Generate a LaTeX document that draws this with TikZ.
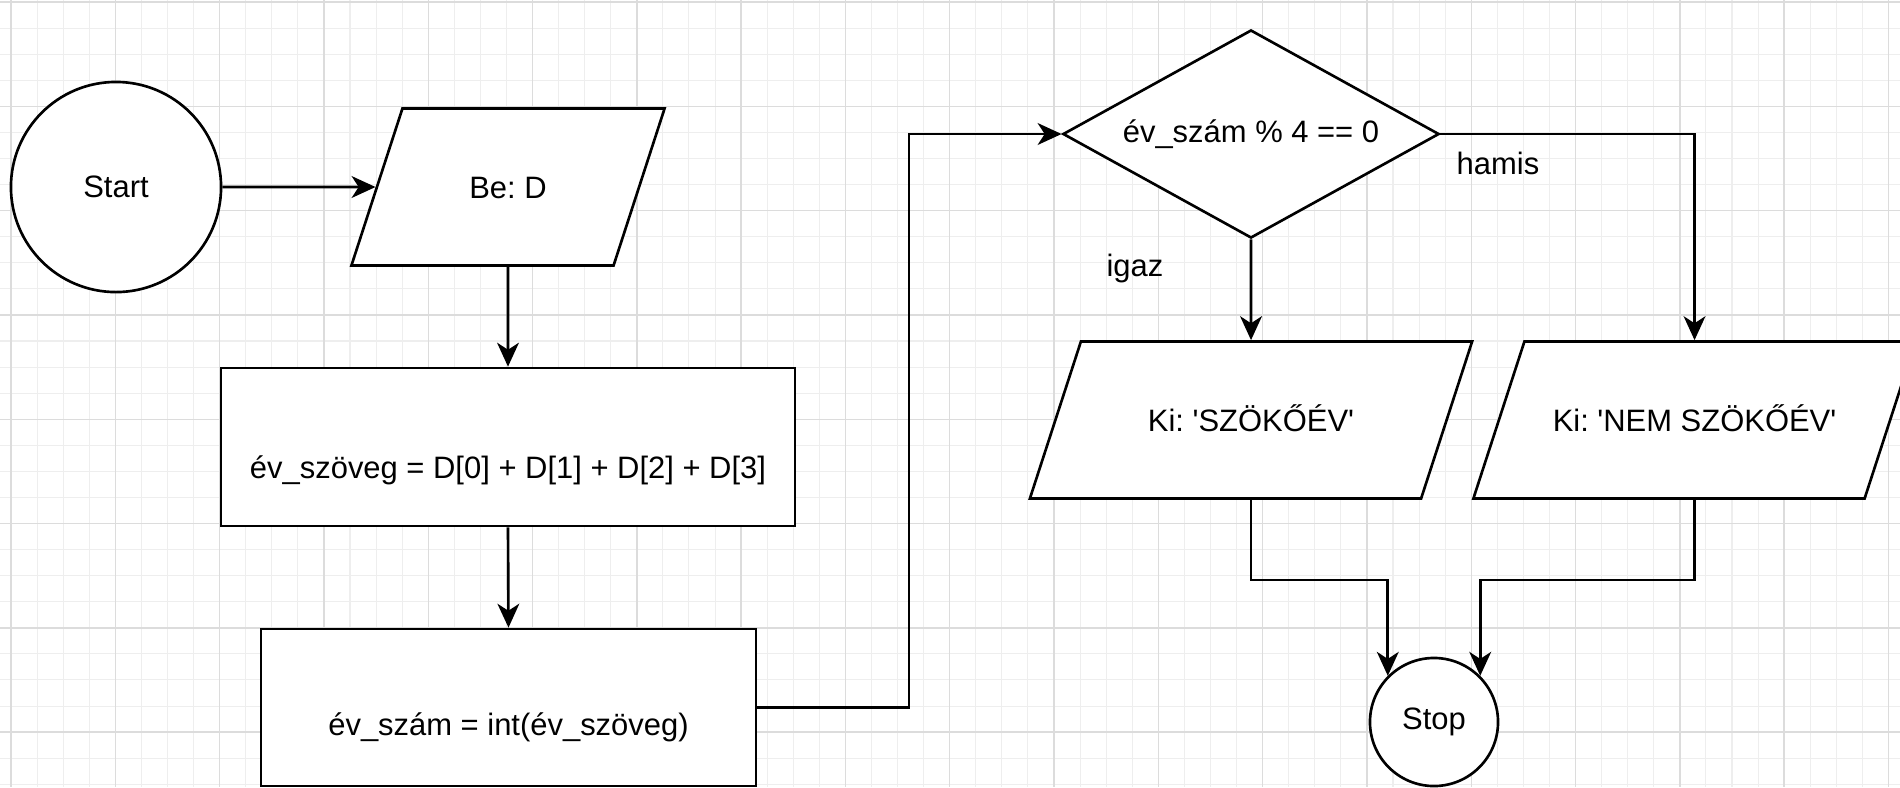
\documentclass[tikz,border=0pt]{standalone}
\usepackage{fontspec}
\setmainfont{Liberation Sans}
\usetikzlibrary{shapes.geometric,arrows.meta}
\definecolor{gridlight}{HTML}{EEEEEE}
\definecolor{griddark}{HTML}{DCDCDC}
\tikzset{%
  terminal/.style  = {shape=circle, draw, line width=0.75pt, inner sep=0pt},%
  iobox/.style     = {shape=trapezium, draw, fill=white, line width=0.75pt,%
                      trapezium left angle=72, trapezium right angle=108,%
                      trapezium stretches body, inner ysep=0pt,%
                      text height=0.895cm, text depth=0.675cm},%
  procbox/.style   = {shape=rectangle, draw, fill=white, line width=0.75pt,%
                      minimum height=1.58cm},%
  decision/.style  = {shape=diamond, draw, fill=white, line width=0.75pt,%
                      aspect=1.8, inner sep=0pt,%
                      minimum width=3.76cm, minimum height=2.08cm},%
  flow/.style      = {line width=0.75pt,%
                      -{Stealth[length=6.8pt, width=6.2pt, inset=2pt]}},%
  minorline/.style = {draw=gridlight, line width=0.3pt},%
  majorline/.style = {draw=griddark, line width=0.4pt}%
}

\begin{document}
\frenchspacing
\begin{tikzpicture}[x=0.01cm, y=-0.01cm, every node/.style = {font=\fontsize{8.8}{10.5}\selectfont}]
  \useasboundingbox (0,0) rectangle (1900,787);
  \clip (0,0) rectangle (1900,787);
  \fill[white] (0,0) rectangle (1900,787);
  % background grid
  \foreach \k in {0,...,72} \draw[minorline] ({11+26.075*\k},0) -- ++(0,787);
  \foreach \k in {0,...,30} \draw[minorline] (0,{2+26.075*\k}) -- ++(1900,0);
  \foreach \k in {0,...,18} \draw[majorline] ({11+104.3*\k},0) -- ++(0,787);
  \foreach \k in {0,...,7} \draw[majorline] (0,{2+104.3*\k}) -- ++(1900,0);

  % shapes
  \node[terminal, fill=white, minimum size=2.1cm] (start) at (116,187) {Start};
  \node[iobox, minimum width=3.13cm] (be) at (508,187) {Be: D};
  \node[procbox, minimum width=5.74cm,
        label={[yshift=-0.23cm]center:{év\_szöveg = D[0] + D[1] + D[2] + D[3]}}] (szoveg) at (508,447) {};
  \node[procbox, minimum width=4.95cm, minimum height=1.57cm,
        label={[yshift=-0.2cm]center:{év\_szám = int(év\_szöveg)}}] (szam) at (508.5,707.5) {};
  \node[decision] (dontes) at (1251,134) {év\_szám \% 4 == 0};
  \node[iobox, minimum width=4.42cm] (ki1) at (1251,420) {Ki: \textquotesingle SZÖKŐÉV\textquotesingle};
  \node[iobox, minimum width=4.42cm] (ki2) at (1694.5,420) {Ki: \textquotesingle NEM SZÖKŐÉV\textquotesingle};
  \node[terminal, fill=white, minimum size=1.28cm] (stop) at (1434,722) {Stop};
  \node (hamis) at (1498,163) {hamis};
  \node (igaz) at (1135,268) {igaz};
  \coordinate (fordulo) at (909,134);

  % connectors
  \draw[flow] (start.east) -- (be.west);
  \draw[flow] (be.south) -- (szoveg.north);
  \draw[flow] (szoveg.south) -- (szam.north);
  \draw[flow] (szam.east) -| (fordulo) -- (dontes.west);
  \draw[flow] (dontes.south) -- (ki1.north);
  \draw[flow] (dontes.east) -| (ki2.north);
  \draw[flow] (ki1.south) -- ++(0,80) -| (stop.135);
  \draw[flow] (ki2.south) -- ++(0,80) -| (stop.45);
\end{tikzpicture}
\end{document}
